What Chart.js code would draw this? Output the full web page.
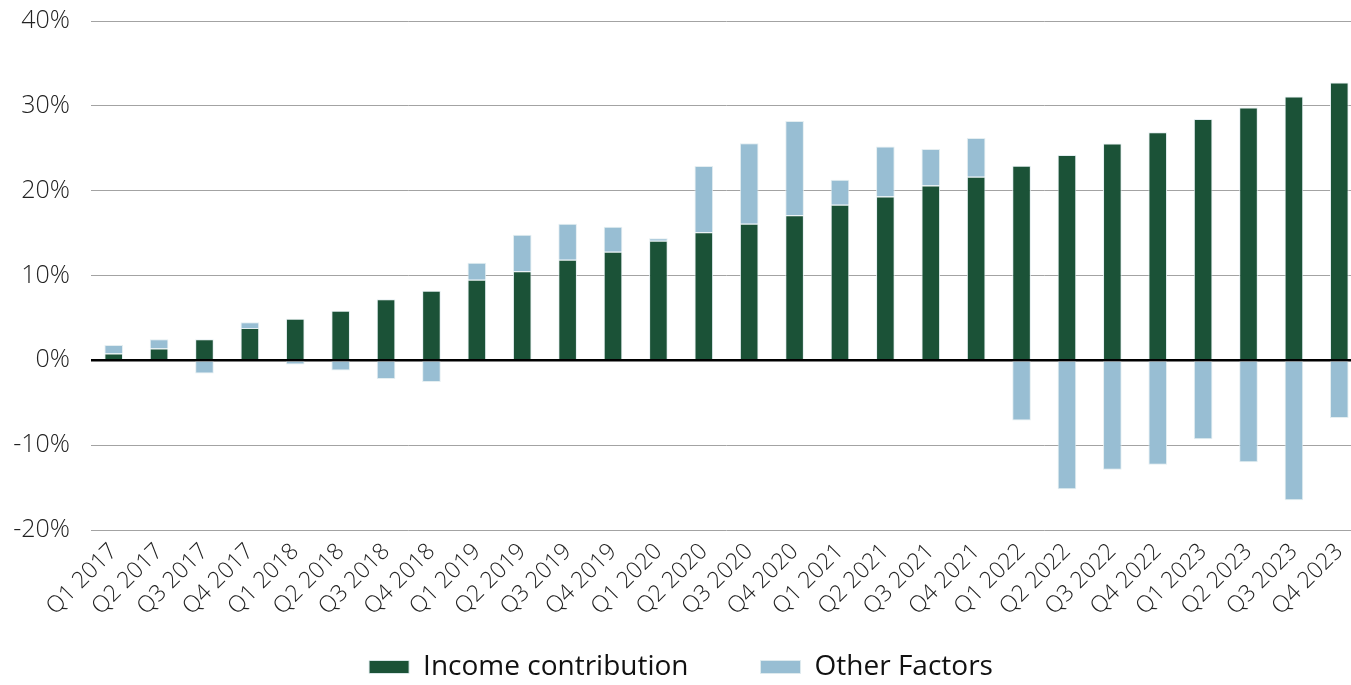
<!DOCTYPE html>
<html>
<head>
<meta charset="utf-8">
<script src="https://cdn.jsdelivr.net/npm/chart.js@4/dist/chart.umd.min.js"></script>
<style>
  html, body { margin: 0; padding: 0; background: #fff; overflow: hidden; }
  #wrap { width: 1362px; height: 685px; position: relative; }
</style>
</head>
<body>
<div id="wrap"><canvas id="c"></canvas></div>
<script>
const categories = ["Q1 2017","Q2 2017","Q3 2017","Q4 2017","Q1 2018","Q2 2018","Q3 2018","Q4 2018",
  "Q1 2019","Q2 2019","Q3 2019","Q4 2019","Q1 2020","Q2 2020","Q3 2020","Q4 2020",
  "Q1 2021","Q2 2021","Q3 2021","Q4 2021","Q1 2022","Q2 2022","Q3 2022","Q4 2022",
  "Q1 2023","Q2 2023","Q3 2023","Q4 2023"];
const incomeContribution = [0.8, 1.4, 2.5, 3.8, 4.9, 5.85, 7.2, 8.2,
  9.5, 10.5, 11.85, 12.8, 14.1, 15.1, 16.1, 17.1,
  18.35, 19.3, 20.6, 21.65, 22.95, 24.2, 25.55, 26.9,
  28.45, 29.8, 31.1, 32.75];
const otherFactors = [1.0, 1.1, -1.55, 0.7, -0.5, -1.2, -2.2, -2.55,
  2.0, 4.3, 4.25, 2.95, 0.3, 7.8, 9.5, 11.1,
  2.95, 5.9, 4.3, 4.55, -7.1, -15.2, -12.9, -12.3,
  -9.3, -12.0, -16.5, -6.8];
const yTicks = [-20, -10, 0, 10, 20, 30, 40];

const FONT = "'Open Sans', 'DejaVu Sans', sans-serif";

new Chart(document.getElementById('c'), {
  type: 'bar',
  data: {
    labels: categories,
    datasets: [
      { label: 'Income contribution', data: incomeContribution, backgroundColor: '#1b5237',
        borderColor: 'rgba(225,236,240,0.9)', borderWidth: 1, barPercentage: 0.41, categoryPercentage: 1 },
      { label: 'Other Factors', data: otherFactors, backgroundColor: '#98bed3',
        borderColor: 'rgba(225,236,240,0.9)', borderWidth: 1, barPercentage: 0.41, categoryPercentage: 1 }
    ]
  },
  options: {
    responsive: true,
    maintainAspectRatio: false,
    animation: false,
    layout: { padding: { top: 21, left: 0, right: 0, bottom: -6 } },
    plugins: {
      tooltip: { enabled: false },
      legend: {
        position: 'bottom',
        labels: {
          boxWidth: 40, boxHeight: 13, padding: 72,
          color: '#111',
          font: { family: FONT, size: 28 }
        }
      }
    },
    scales: {
      x: {
        stacked: true,
        grid: { display: false, drawTicks: false },
        border: { display: false },
        ticks: {
          autoSkip: false, maxRotation: 45, minRotation: 45, padding: 8,
          color: '#222', font: { family: FONT, size: 23, weight: 300 }
        },
        afterFit: (s) => {
          s.height = 51;
          s.paddingLeft = 0; s.paddingRight = 0; s.paddingTop = 0; s.paddingBottom = 0;
          s._computeLabelArea = () => undefined;
        }
      },
      y: {
        stacked: true,
        min: -20, max: 40,
        afterBuildTicks: (s) => { s.ticks = yTicks.map(v => ({ value: v })); },
        grid: {
          drawTicks: false,
          color: (ctx) => ctx.tick && ctx.tick.value === 0 ? '#000' : '#a3a3a3',
          lineWidth: (ctx) => ctx.tick && ctx.tick.value === 0 ? 2.5 : 1
        },
        border: { display: false },
        ticks: {
          padding: 21, color: '#222',
          font: { family: FONT, size: 25, weight: 300 },
          callback: (v) => v + '%'
        },
        afterFit: (s) => {
          s.width = 91;
          s.paddingLeft = 0; s.paddingRight = 0; s.paddingTop = 0; s.paddingBottom = 0;
        }
      }
    }
  }
});
</script>
</body>
</html>
